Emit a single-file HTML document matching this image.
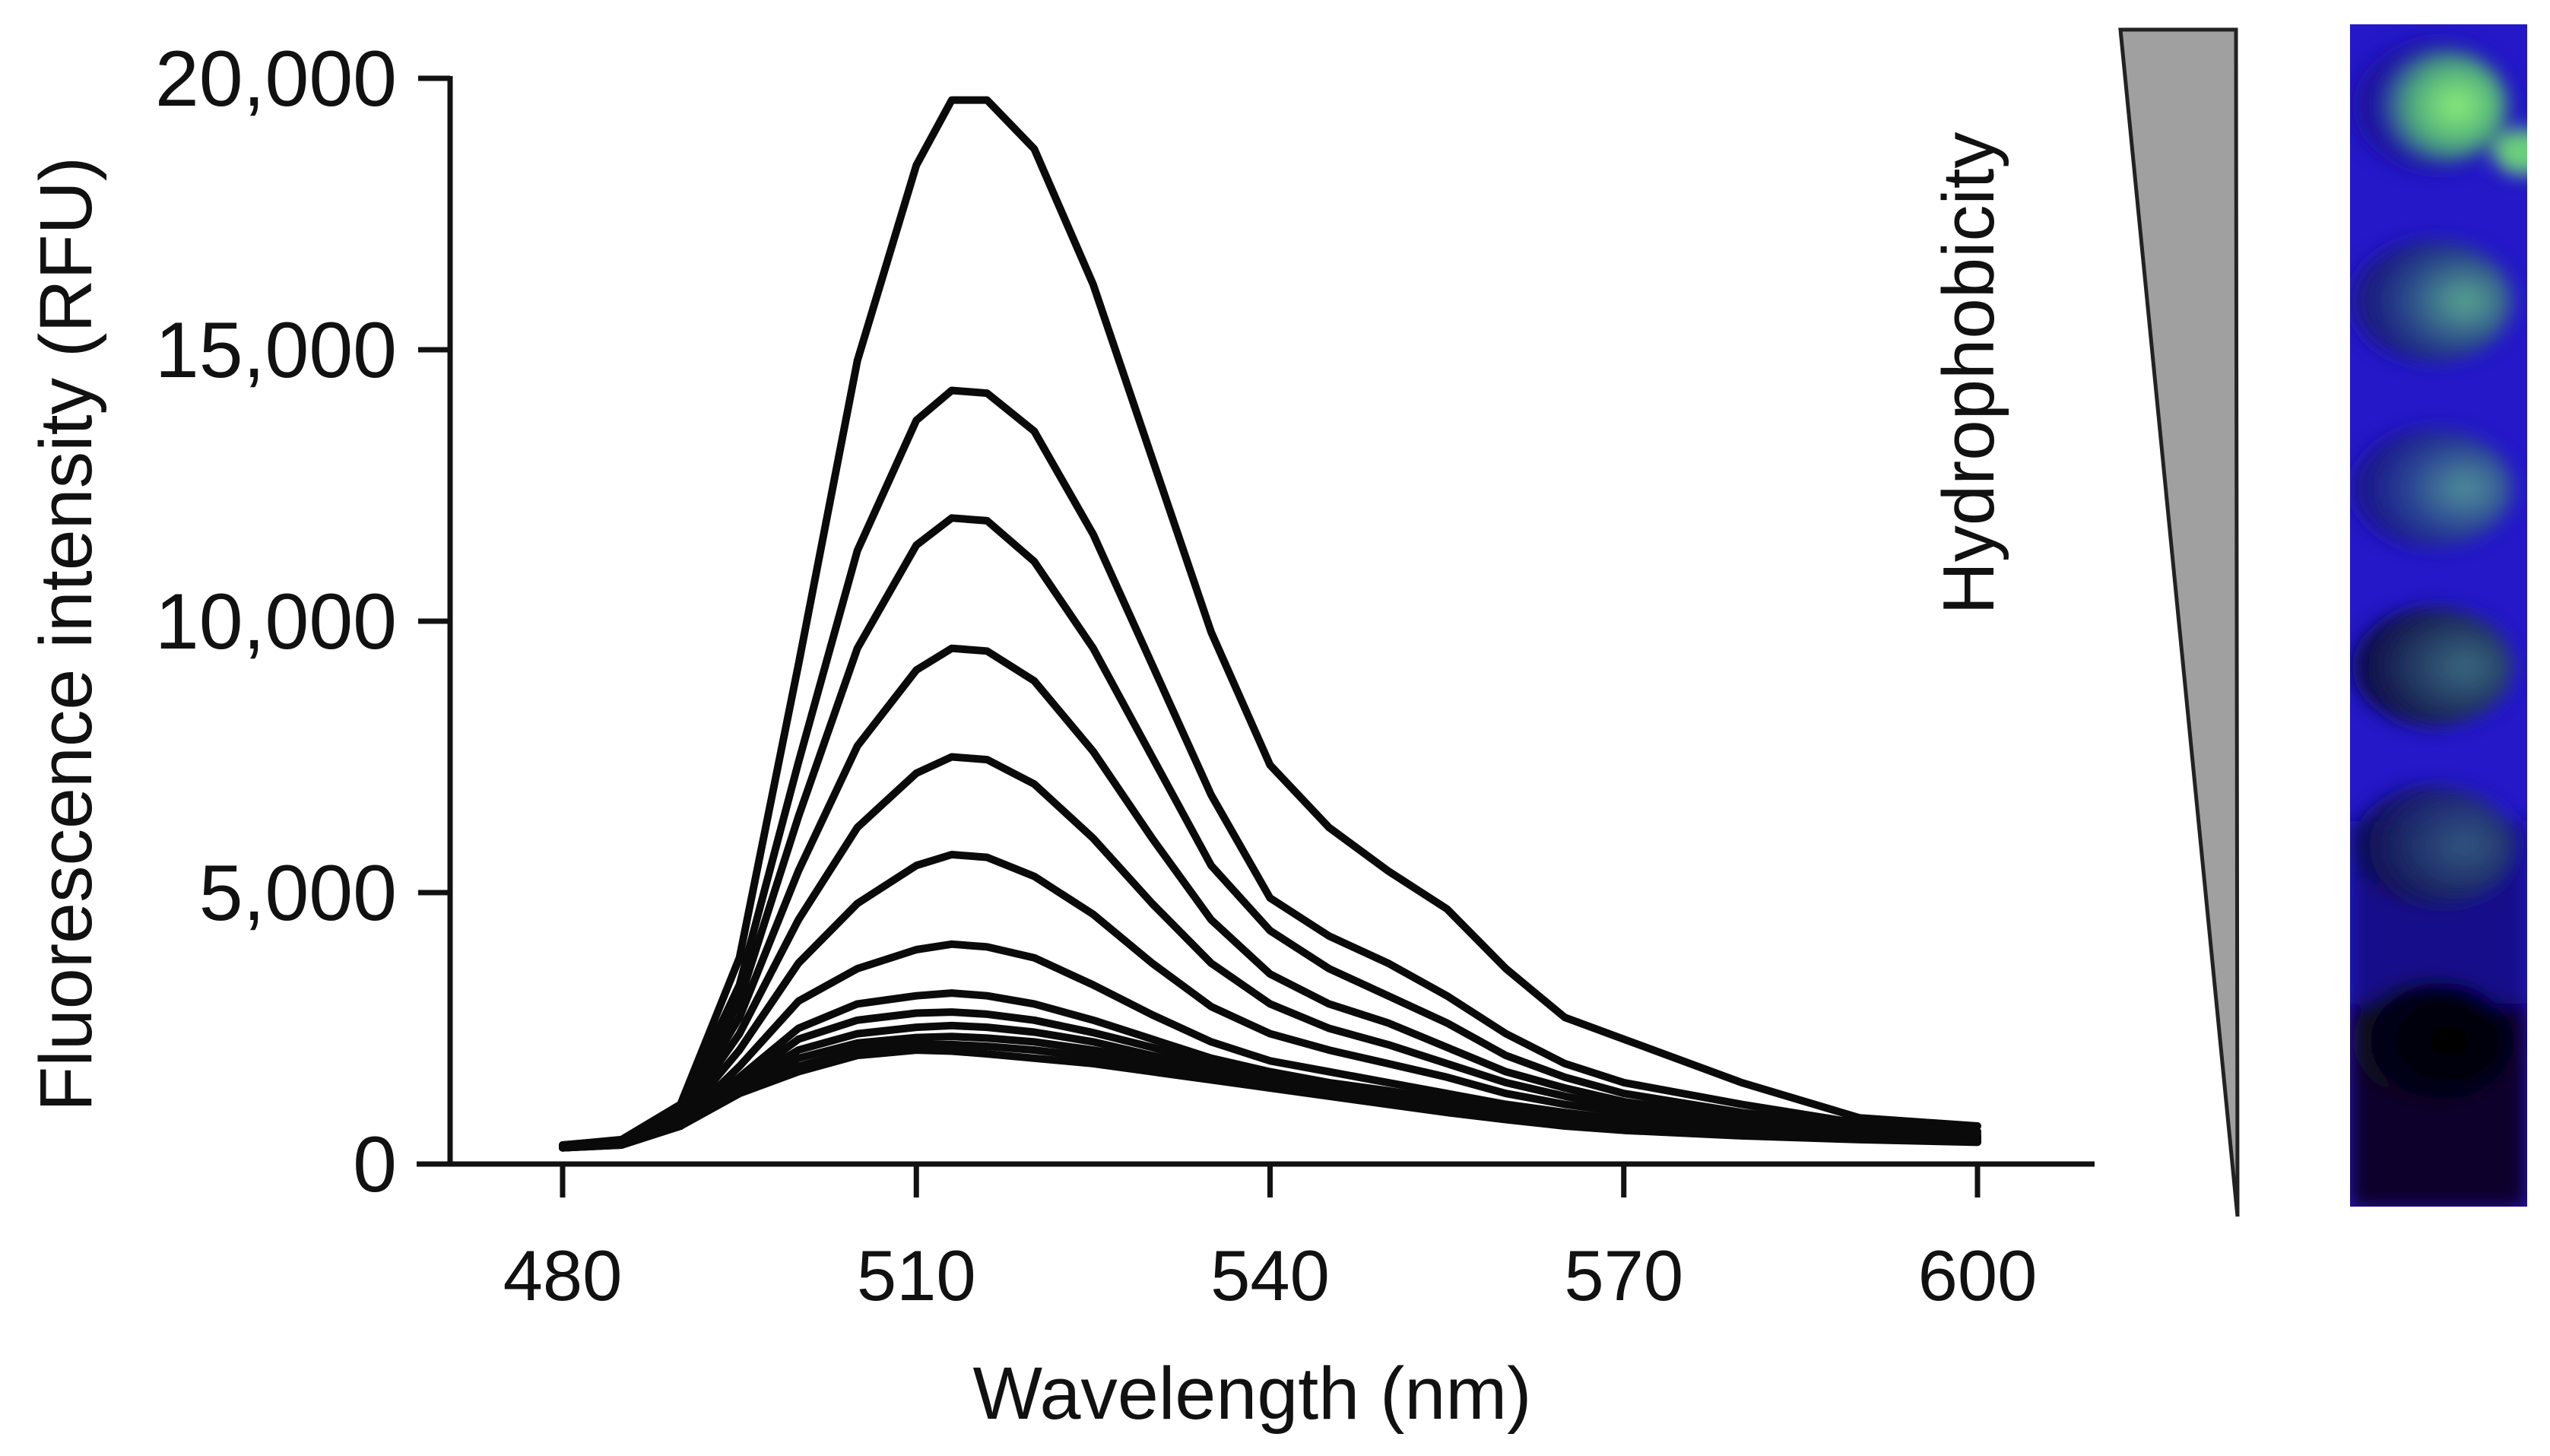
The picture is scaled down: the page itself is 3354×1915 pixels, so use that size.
<!DOCTYPE html>
<html><head><meta charset="utf-8"><style>
html,body{margin:0;padding:0;background:#fff;}
svg{display:block;}
text{font-family:"Liberation Sans",Arial,sans-serif;fill:#111;}
</style></head><body>
<svg id="chart" width="3354" height="1915" viewBox="0 0 3354 1915" xmlns="http://www.w3.org/2000/svg">
<defs>
<filter id="blur" x="-20%" y="-20%" width="140%" height="140%"><feGaussianBlur stdDeviation="12"/></filter>
<clipPath id="photoClip"><rect x="3091" y="32" width="233" height="1555"/></clipPath>
<radialGradient id="g1" cx="0.6" cy="0.5" r="0.6"><stop offset="0" stop-color="#8ef07a"/><stop offset="0.6" stop-color="#4fae7a"/><stop offset="1" stop-color="#2a3aa0"/></radialGradient>
<radialGradient id="g2" cx="0.7" cy="0.5" r="0.6"><stop offset="0" stop-color="#5aa890"/><stop offset="0.6" stop-color="#2a4a8a"/><stop offset="1" stop-color="#1a1a80"/></radialGradient>
<radialGradient id="g3" cx="0.7" cy="0.5" r="0.6"><stop offset="0" stop-color="#3a6a80"/><stop offset="1" stop-color="#10104a"/></radialGradient>
<radialGradient id="g4" cx="0.6" cy="0.5" r="0.6"><stop offset="0" stop-color="#000"/><stop offset="1" stop-color="#080820"/></radialGradient>
</defs>
<g id="axes"></g>
<g id="series"></g>
<g id="labels"></g>
<polygon points="2789,39 2941,39 2943,1600" fill="#a0a0a0" stroke="#222" stroke-width="5" stroke-linejoin="miter"/>
<text x="0" y="0" font-size="96" text-anchor="middle" transform="translate(2622,491) rotate(-90)">Hydrophobicity</text>
<g clip-path="url(#photoClip)">
<rect x="3091" y="32" width="233" height="1555" fill="#2418c8"/>
<g filter="url(#blur)">
<rect x="3091" y="1080" width="233" height="510" fill="#14108a"/>
<rect x="3091" y="1320" width="233" height="270" fill="#08062a"/>
<ellipse cx="3200" cy="139" rx="105" ry="85" fill="#1a1690" opacity="0.7"/>
<ellipse cx="3215" cy="139" rx="80" ry="70" fill="url(#g1)"/>
<ellipse cx="3200" cy="396" rx="105" ry="80" fill="url(#g2)"/>
<ellipse cx="3200" cy="642" rx="105" ry="78" fill="url(#g2)" opacity="0.85"/>
<ellipse cx="3200" cy="877" rx="105" ry="78" fill="url(#g3)"/>
<ellipse cx="3200" cy="1112" rx="105" ry="78" fill="url(#g3)" opacity="0.8"/>
<ellipse cx="3200" cy="1369" rx="105" ry="80" fill="url(#g4)"/>
<ellipse cx="3320" cy="200" rx="40" ry="30" fill="#6ad07a"/>
</g>
</g>
</svg>
<script>
const wavelengths=[480,485,490,495,500,505,510,513,516,520,525,530,535,540,545,550,555,560,565,570,580,590,600];
const s1=[350,450,1100,3800,9200,14800,18400,19600,19600,18700,16200,13000,9800,7350,6200,5400,4700,3600,2700,2300,1500,850,700];
const s2=[350,440,1000,3300,7400,11300,13700,14250,14200,13500,11600,9200,6800,4900,4200,3700,3100,2400,1850,1500,1100,750,600];
const s3=[340,430,950,3000,6400,9500,11400,11900,11850,11100,9500,7500,5500,4300,3600,3100,2600,2000,1600,1300,950,680,560];
const s4=[330,420,900,2700,5400,7700,9100,9500,9450,8900,7600,6000,4500,3500,2950,2600,2150,1700,1400,1150,850,620,520];
const s5=[320,410,850,2400,4500,6200,7200,7500,7450,7000,6000,4800,3700,2950,2500,2200,1850,1500,1250,1050,780,580,500];
const s6=[310,400,800,2100,3700,4800,5500,5700,5650,5300,4600,3700,2900,2400,2100,1850,1600,1300,1100,950,720,550,480];
const s7=[300,390,750,1800,3000,3600,3950,4050,4000,3800,3300,2750,2250,1900,1700,1500,1300,1100,950,820,650,520,460];
const s8=[300,380,720,1600,2500,2950,3100,3150,3100,2950,2650,2300,1950,1700,1500,1350,1180,1000,870,760,620,500,450];
const s9=[300,370,700,1500,2300,2650,2780,2800,2760,2650,2420,2150,1850,1620,1430,1280,1120,950,830,730,600,490,440];
const s10=[300,360,700,1450,2100,2400,2520,2550,2520,2430,2250,2000,1750,1550,1380,1220,1070,910,800,700,580,480,430];
const s11=[300,355,700,1400,1950,2230,2330,2350,2320,2250,2100,1900,1680,1500,1330,1180,1030,880,770,680,560,470,420];
const s12=[300,350,700,1350,1800,2100,2200,2200,2170,2100,1970,1800,1600,1440,1290,1140,1000,850,740,650,540,460,410];
const s13=[300,350,700,1300,1700,2000,2100,2080,2030,1950,1850,1700,1550,1400,1250,1100,950,820,700,620,520,450,400];
const seriesList=[s1,s2,s3,s4,s5,s6,s7,s8,s9,s10,s11,s12,s13];
const xTicks=[480,510,540,570,600];
const yTicks=[0,5000,10000,15000,20000];
const yTickLabels=["0","5,000","10,000","15,000","20,000"];

const NS="http://www.w3.org/2000/svg";
const X0=740,X1=2601,Y0=1531,Y1=103;
function xs(w){return X0+(w-480)/(600-480)*(X1-X0);}
function ys(v){return Y0-(v/20000)*(Y0-Y1);}
function mk(tag,attrs,parent){const e=document.createElementNS(NS,tag);for(const k in attrs)e.setAttribute(k,attrs[k]);parent.appendChild(e);return e;}

const axes=document.getElementById('axes');
const series=document.getElementById('series');
const labels=document.getElementById('labels');

let xl=mk('line',{x1:548,y1:Y0,x2:2755,y2:Y0,stroke:'#111','stroke-width':7},axes);


let yl=mk('line',{x1:592,y1:Y0+3,x2:592,y2:Y1-3,stroke:'#111','stroke-width':7},axes);



xTicks.forEach(function(t){
  const px=xs(t);
  const tk=mk('line',{x1:px,y1:Y0,x2:px,y2:Y0+44,stroke:'#111','stroke-width':7},axes);
  
  
  const tx=mk('text',{x:px,y:1710,'font-size':94,'text-anchor':'middle'},labels);
  tx.textContent=String(t);
  
  
});
yTicks.forEach(function(t,i){
  const py=ys(t);
  const tk=mk('line',{x1:550,y1:py,x2:592,y2:py,stroke:'#111','stroke-width':7},axes);
  
  
  const tx=mk('text',{x:522,y:py+36,'font-size':104,'text-anchor':'end'},labels);
  tx.textContent=yTickLabels[i];
  
  
});
const xt=mk('text',{x:1647,y:1866,'font-size':97,'text-anchor':'middle'},labels);
xt.textContent='Wavelength (nm)';


const yt=mk('text',{x:0,y:0,'font-size':97,'text-anchor':'middle',transform:'translate(120,834) rotate(-90)'},labels);
yt.textContent='Fluorescence intensity (RFU)';



seriesList.forEach(function(s,i){
  let d='';
  s.forEach(function(v,j){d+=(j?'L':'M')+xs(wavelengths[j]).toFixed(1)+','+ys(v).toFixed(1);});
  const p=mk('path',{d:d,fill:'none',stroke:'#0a0a0a','stroke-width':10,'stroke-linejoin':'round','stroke-linecap':'round'},series);
  
  
});
</script>
</body></html>
